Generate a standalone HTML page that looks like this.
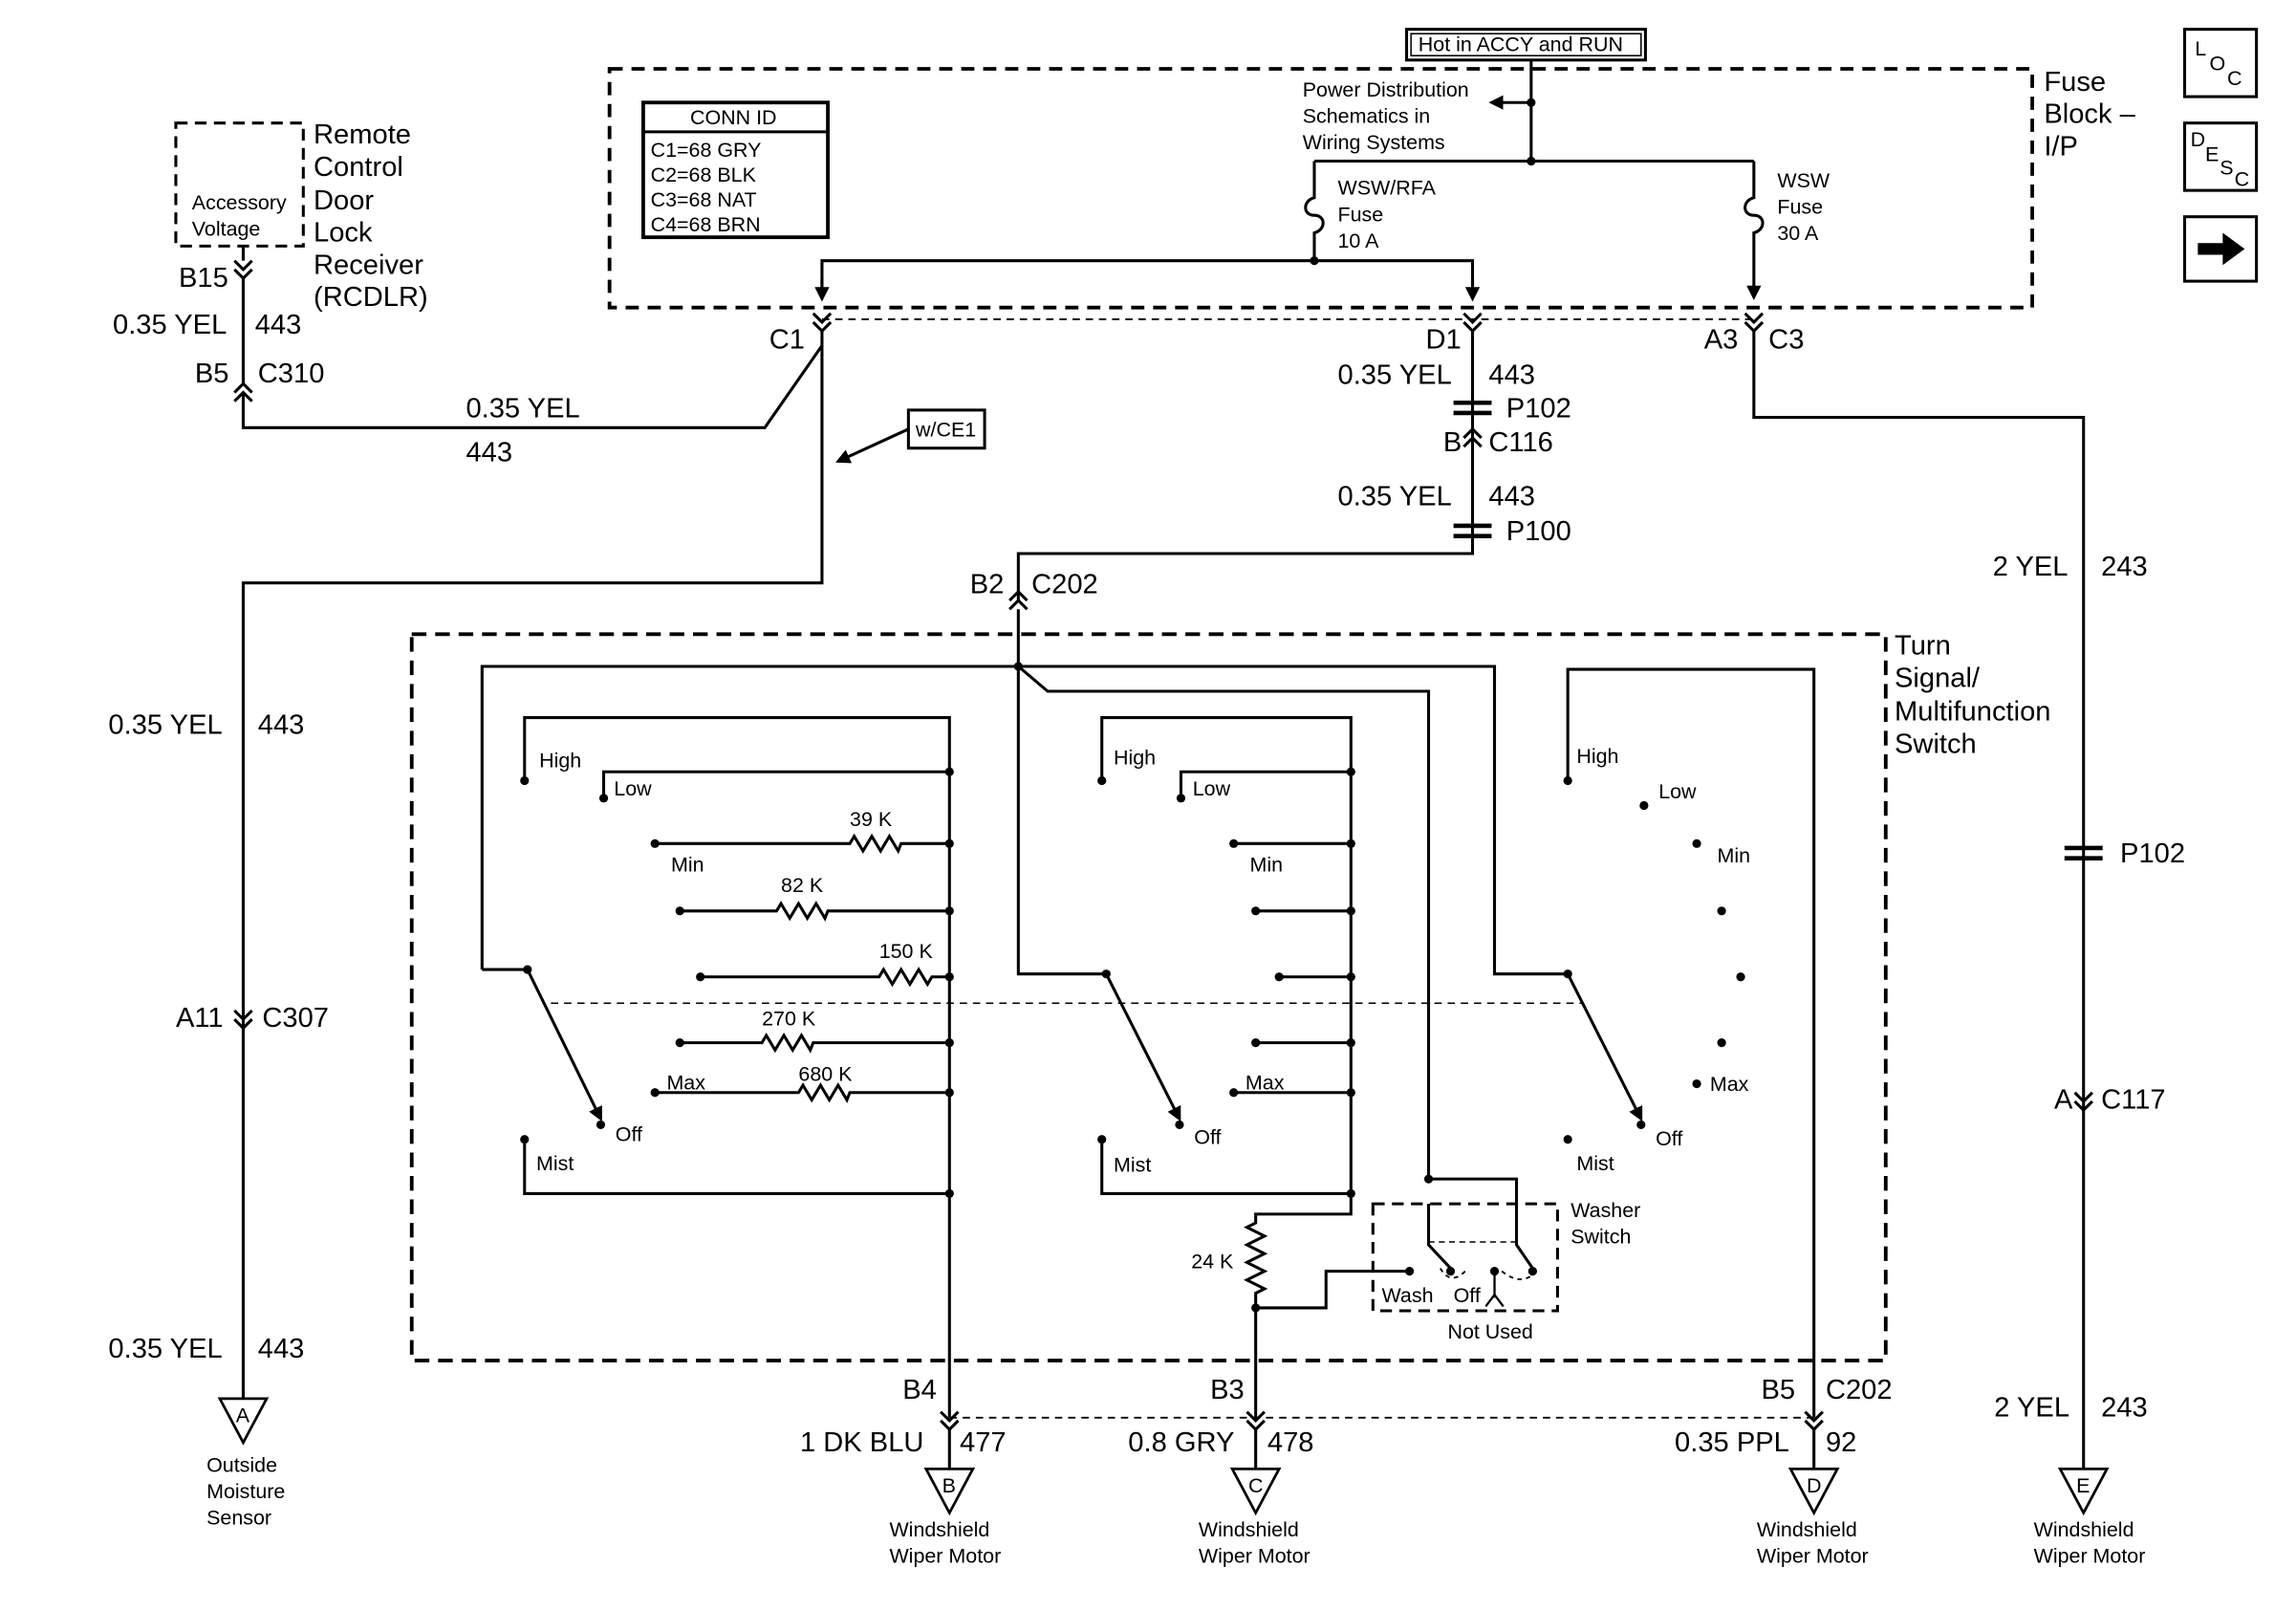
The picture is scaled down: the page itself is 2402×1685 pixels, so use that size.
<!DOCTYPE html>
<html><head><meta charset="utf-8"><style>
html,body{margin:0;padding:0;background:#fff;}
svg{display:block;}
text{font-family:"Liberation Sans",sans-serif;fill:#000;}
.b{font-size:19px}.s{font-size:14px}
</style></head><body>
<svg width="2402" height="1685" viewBox="0 0 1567 1100" preserveAspectRatio="none" xmlns="http://www.w3.org/2000/svg">
<defs>
<marker id="ar" markerWidth="10" markerHeight="10" refX="8" refY="5" orient="auto" markerUnits="userSpaceOnUse"><path d="M0,0 L10,5 L0,10 z" fill="#000"/></marker>
</defs>
<g stroke="#000" stroke-width="2" fill="none">
<rect x="960" y="20" width="163" height="21"/><rect x="963" y="23" width="157" height="15" stroke-width="1"/>
<rect x="416" y="47" width="971" height="163" stroke-dasharray="9,6" stroke-width="2.5"/>
<rect x="439" y="70" width="126" height="92" stroke-width="2.5"/>
<line x1="439" y1="90" x2="565" y2="90"/>
<line x1="1045" y1="41" x2="1045" y2="110"/>
<line x1="1045" y1="70" x2="1018" y2="70" marker-end="url(#ar)"/>
<line x1="897" y1="110" x2="1197" y2="110"/>
<path d="M897,110 V135 c-8,2 -8,12 0,12 c8,0 8,10 0,12 V178"/>
<path d="M1197,110 V135 c-8,2 -8,12 0,12 c8,0 8,10 0,12 V203" marker-end="url(#ar)"/>
<path d="M561,203 V178 H1005 V203" />
<line x1="561" y1="190" x2="561" y2="204" marker-end="url(#ar)"/>
<line x1="1005" y1="190" x2="1005" y2="204" marker-end="url(#ar)"/>
<line x1="561" y1="218" x2="1197" y2="218" stroke-dasharray="5,4" stroke-width="1.2"/>
<path d="M555,214 L561,220 L567,214 M555,220 L561,226 L567,220"/>
<path d="M999,214 L1005,220 L1011,214 M999,220 L1005,226 L1011,220"/>
<path d="M1191,214 L1197,220 L1203,214 M1191,220 L1197,226 L1203,220"/>
<path d="M561,226 V236 L522,292 H166 V268"/>
<path d="M160,268 L166,262 L172,268 M160,274 L166,268 L172,274"/>
<path d="M166,262 V190 M160,184 L166,190 L172,184 M160,178 L166,184 L172,178 M166,178 V168"/>
<rect x="120" y="84" width="87" height="84" stroke-dasharray="8,5"/>
<path d="M561,236 V398 H166 V955"/>
<path d="M160,690 L166,696 L172,690 M160,696 L166,702 L172,696"/>
<rect x="620" y="280" width="52" height="26"/>
<line x1="620" y1="293" x2="572" y2="315" marker-end="url(#ar)"/>
<path d="M1005,226 V378 H695 V410"/>
<line x1="992" y1="275" x2="1018" y2="275" stroke-width="3"/><line x1="992" y1="282" x2="1018" y2="282" stroke-width="3"/>
<path d="M999,299 L1005,293 L1011,299 M999,305 L1005,299 L1011,305"/>
<line x1="992" y1="359" x2="1018" y2="359" stroke-width="3"/><line x1="992" y1="366" x2="1018" y2="366" stroke-width="3"/>
<path d="M689,410 L695,404 L701,410 M689,416 L695,410 L701,416"/>
<path d="M695,416 V665 H755"/>
<path d="M1197,226 V285 H1422 V1003"/>
<line x1="1409" y1="579" x2="1435" y2="579" stroke-width="3"/><line x1="1409" y1="586" x2="1435" y2="586" stroke-width="3"/>
<path d="M1416,746 L1422,752 L1428,746 M1416,752 L1422,758 L1428,752"/>
<rect x="281" y="433" width="1006" height="496" stroke-dasharray="10,6" stroke-width="2.5"/>
<path d="M329,662 V455 H1020 V665 H1070"/>
<path d="M695,455 L715,472 H975 V805"/>
<line x1="329" y1="662" x2="360" y2="662"/>
<line x1="360" y1="662" x2="410" y2="764" marker-end="url(#ar)"/>
<line x1="755" y1="665" x2="805" y2="764" marker-end="url(#ar)"/>
<line x1="1070" y1="665" x2="1120" y2="764" marker-end="url(#ar)"/>
<line x1="376" y1="685" x2="1080" y2="685" stroke-dasharray="5,4" stroke-width="1"/>
<path d="M358,533 V490 H648 V968"/>
<path d="M412,545 V527 H648"/>
<path d="M447,576 H580 L583,571 L589,581 L595,571 L601,581 L607,571 L613,581 L615,576 H648"/>
<path d="M464,622 H530 L533,617 L539,627 L545,617 L551,627 L557,617 L563,627 L565,622 H648"/>
<path d="M478,667 H600 L603,662 L609,672 L615,662 L621,672 L627,662 L633,672 L636,667 H648"/>
<path d="M464,712 H520 L523,707 L529,717 L535,707 L541,717 L547,707 L553,717 L555,712 H648"/>
<path d="M447,746 H545 L548,741 L554,751 L560,741 L566,751 L572,741 L578,751 L580,746 H648"/>
<path d="M358,778 V815 H648"/>
<path d="M752,533 V490 H922 V829 H857 V835 L851,838 L863,844 L851,850 L863,856 L851,862 L863,868 L851,874 L863,880 L857,883 V968"/>
<path d="M806,545 V527 H922"/>
<path d="M842,576 H922 M857,622 H922 M873,667 H922 M857,712 H922 M842,746 H922"/>
<path d="M752,778 V815 H922"/>
<path d="M857,893 H905 V868 H962"/>
<rect x="937" y="822" width="126" height="73" stroke-dasharray="8,5"/>
<path d="M975,805 H1035 V822 M975,822 V850 L990,866 M1035,822 V850 L1046,866"/>
<line x1="975" y1="848" x2="1035" y2="848" stroke-dasharray="4,3" stroke-width="1"/>
<path d="M983,866 Q990,878 1000,868 M1025,868 Q1040,880 1050,866" stroke-dasharray="3,3" stroke-width="1.2"/>
<path d="M1020,870 V886 M1014,892 L1020,884 L1026,892" stroke-width="1.5"/>
<path d="M1070,533 V457 H1238 V968"/>
<line x1="648" y1="968" x2="1238" y2="968" stroke-dasharray="5,4" stroke-width="1.2"/>
<path d="M642,964 L648,970 L654,964 M642,970 L648,976 L654,970"/>
<path d="M851,964 L857,970 L863,964 M851,970 L857,976 L863,970"/>
<path d="M1232,964 L1238,970 L1244,964 M1232,970 L1238,976 L1244,970"/>
<path d="M648,976 V1003 M857,976 V1003 M1238,976 V1003"/>
<path d="M150,955 H182 L166,985 Z M632,1003 H664 L648,1033 Z M841,1003 H873 L857,1033 Z M1222,1003 H1254 L1238,1033 Z M1406,1003 H1438 L1422,1033 Z" stroke-width="1.8"/>
<rect x="1491" y="20" width="49" height="46"/><rect x="1491" y="84" width="49" height="46"/><rect x="1491" y="148" width="49" height="44"/>
</g>
<path d="M1500,166 H1517 V159 L1532,170 L1517,181 V174 H1500 Z" fill="#000"/>
<g fill="#000">
<circle cx="1045" cy="70" r="3"/><circle cx="1045" cy="110" r="3"/><circle cx="897" cy="178" r="3"/>
<circle cx="695" cy="455" r="3"/>
<circle cx="648" cy="527" r="3"/><circle cx="648" cy="576" r="3"/><circle cx="648" cy="622" r="3"/><circle cx="648" cy="667" r="3"/><circle cx="648" cy="712" r="3"/><circle cx="648" cy="746" r="3"/><circle cx="648" cy="815" r="3"/>
<circle cx="358" cy="533" r="3"/><circle cx="412" cy="545" r="3"/><circle cx="447" cy="576" r="3"/><circle cx="464" cy="622" r="3"/><circle cx="478" cy="667" r="3"/><circle cx="464" cy="712" r="3"/><circle cx="447" cy="746" r="3"/><circle cx="410" cy="768" r="3"/><circle cx="358" cy="778" r="3"/><circle cx="360" cy="662" r="3"/>
<circle cx="922" cy="527" r="3"/><circle cx="922" cy="576" r="3"/><circle cx="922" cy="622" r="3"/><circle cx="922" cy="667" r="3"/><circle cx="922" cy="712" r="3"/><circle cx="922" cy="746" r="3"/><circle cx="922" cy="815" r="3"/>
<circle cx="752" cy="533" r="3"/><circle cx="806" cy="545" r="3"/><circle cx="842" cy="576" r="3"/><circle cx="857" cy="622" r="3"/><circle cx="873" cy="667" r="3"/><circle cx="857" cy="712" r="3"/><circle cx="842" cy="746" r="3"/><circle cx="805" cy="768" r="3"/><circle cx="752" cy="778" r="3"/><circle cx="755" cy="665" r="3"/>
<circle cx="857" cy="893" r="3"/><circle cx="975" cy="805" r="3"/><circle cx="962" cy="868" r="3"/><circle cx="990" cy="868" r="3"/><circle cx="1020" cy="868" r="3"/><circle cx="1046" cy="868" r="3"/>
<circle cx="1070" cy="533" r="3"/><circle cx="1122" cy="550" r="3"/><circle cx="1158" cy="576" r="3"/><circle cx="1175" cy="622" r="3"/><circle cx="1188" cy="667" r="3"/><circle cx="1175" cy="712" r="3"/><circle cx="1158" cy="740" r="3"/><circle cx="1120" cy="768" r="3"/><circle cx="1070" cy="778" r="3"/><circle cx="1070" cy="665" r="3"/>
</g>
<g class="s">
<text x="968" y="35">Hot in ACCY and RUN</text>
<text x="471" y="85">CONN ID</text>
<text x="444" y="107">C1=68 GRY</text><text x="444" y="124">C2=68 BLK</text><text x="444" y="141">C3=68 NAT</text><text x="444" y="158">C4=68 BRN</text>
<text x="889" y="66">Power Distribution</text><text x="889" y="84">Schematics in</text><text x="889" y="102">Wiring Systems</text>
<text x="913" y="133">WSW/RFA</text><text x="913" y="151">Fuse</text><text x="913" y="169">10 A</text>
<text x="1213" y="128">WSW</text><text x="1213" y="146">Fuse</text><text x="1213" y="164">30 A</text>
<text x="131" y="143">Accessory</text><text x="131" y="161">Voltage</text>
<text x="625" y="298">w/CE1</text>
<text x="368" y="524">High</text><text x="419" y="543">Low</text><text x="580" y="564">39 K</text><text x="458" y="595">Min</text>
<text x="533" y="609">82 K</text><text x="600" y="654">150 K</text><text x="520" y="700">270 K</text><text x="455" y="744">Max</text><text x="545" y="738">680 K</text>
<text x="420" y="779">Off</text><text x="366" y="799">Mist</text>
<text x="760" y="522">High</text><text x="814" y="543">Low</text><text x="853" y="595">Min</text><text x="850" y="744">Max</text><text x="815" y="781">Off</text><text x="760" y="800">Mist</text>
<text x="1076" y="521">High</text><text x="1132" y="545">Low</text><text x="1172" y="589">Min</text><text x="1167" y="745">Max</text><text x="1130" y="782">Off</text><text x="1076" y="799">Mist</text>
<text x="813" y="866">24 K</text>
<text x="1072" y="831">Washer</text><text x="1072" y="849">Switch</text>
<text x="943" y="889">Wash</text><text x="992" y="889">Off</text><text x="988" y="914">Not Used</text>
<text x="141" y="1005">Outside</text><text x="141" y="1023">Moisture</text><text x="141" y="1041">Sensor</text>
<text x="607" y="1049">Windshield</text><text x="607" y="1067">Wiper Motor</text>
<text x="818" y="1049">Windshield</text><text x="818" y="1067">Wiper Motor</text>
<text x="1199" y="1049">Windshield</text><text x="1199" y="1067">Wiper Motor</text>
<text x="1388" y="1049">Windshield</text><text x="1388" y="1067">Wiper Motor</text>
<text x="161" y="971">A</text><text x="643" y="1019">B</text><text x="852" y="1019">C</text><text x="1233" y="1019">D</text><text x="1417" y="1019">E</text>
<text x="1498" y="38">L</text><text x="1508" y="48">O</text><text x="1520" y="58">C</text>
<text x="1495" y="100">D</text><text x="1505" y="110">E</text><text x="1515" y="119">S</text><text x="1525" y="127">C</text>
</g>
<g class="b">
<text x="1395" y="62">Fuse</text><text x="1395" y="84">Block –</text><text x="1395" y="106">I/P</text>
<text x="214" y="98">Remote</text><text x="214" y="120">Control</text><text x="214" y="143">Door</text><text x="214" y="165">Lock</text><text x="214" y="187">Receiver</text><text x="214" y="209">(RCDLR)</text>
<text x="122" y="196">B15</text><text x="77" y="228">0.35 YEL</text><text x="174" y="228">443</text>
<text x="133" y="261">B5</text><text x="176" y="261">C310</text>
<text x="318" y="285">0.35 YEL</text><text x="318" y="315">443</text>
<text x="525" y="238">C1</text><text x="973" y="238">D1</text><text x="1163" y="238">A3</text><text x="1207" y="238">C3</text>
<text x="913" y="262">0.35 YEL</text><text x="1016" y="262">443</text><text x="1028" y="285">P102</text>
<text x="985" y="308">B</text><text x="1016" y="308">C116</text>
<text x="913" y="345">0.35 YEL</text><text x="1016" y="345">443</text><text x="1028" y="369">P100</text>
<text x="662" y="405">B2</text><text x="704" y="405">C202</text>
<text x="1360" y="393">2 YEL</text><text x="1434" y="393">243</text>
<text x="1293" y="447">Turn</text><text x="1293" y="469">Signal/</text><text x="1293" y="492">Multifunction</text><text x="1293" y="514">Switch</text>
<text x="74" y="501">0.35 YEL</text><text x="176" y="501">443</text>
<text x="1447" y="589">P102</text>
<text x="120" y="701">A11</text><text x="179" y="701">C307</text>
<text x="1402" y="757">A</text><text x="1434" y="757">C117</text>
<text x="74" y="927">0.35 YEL</text><text x="176" y="927">443</text>
<text x="616" y="955">B4</text><text x="826" y="955">B3</text><text x="1202" y="955">B5</text><text x="1246" y="955">C202</text>
<text x="546" y="991">1 DK BLU</text><text x="655" y="991">477</text>
<text x="770" y="991">0.8 GRY</text><text x="865" y="991">478</text>
<text x="1143" y="991">0.35 PPL</text><text x="1246" y="991">92</text>
<text x="1361" y="967">2 YEL</text><text x="1434" y="967">243</text>
</g>
</svg>
</body></html>
